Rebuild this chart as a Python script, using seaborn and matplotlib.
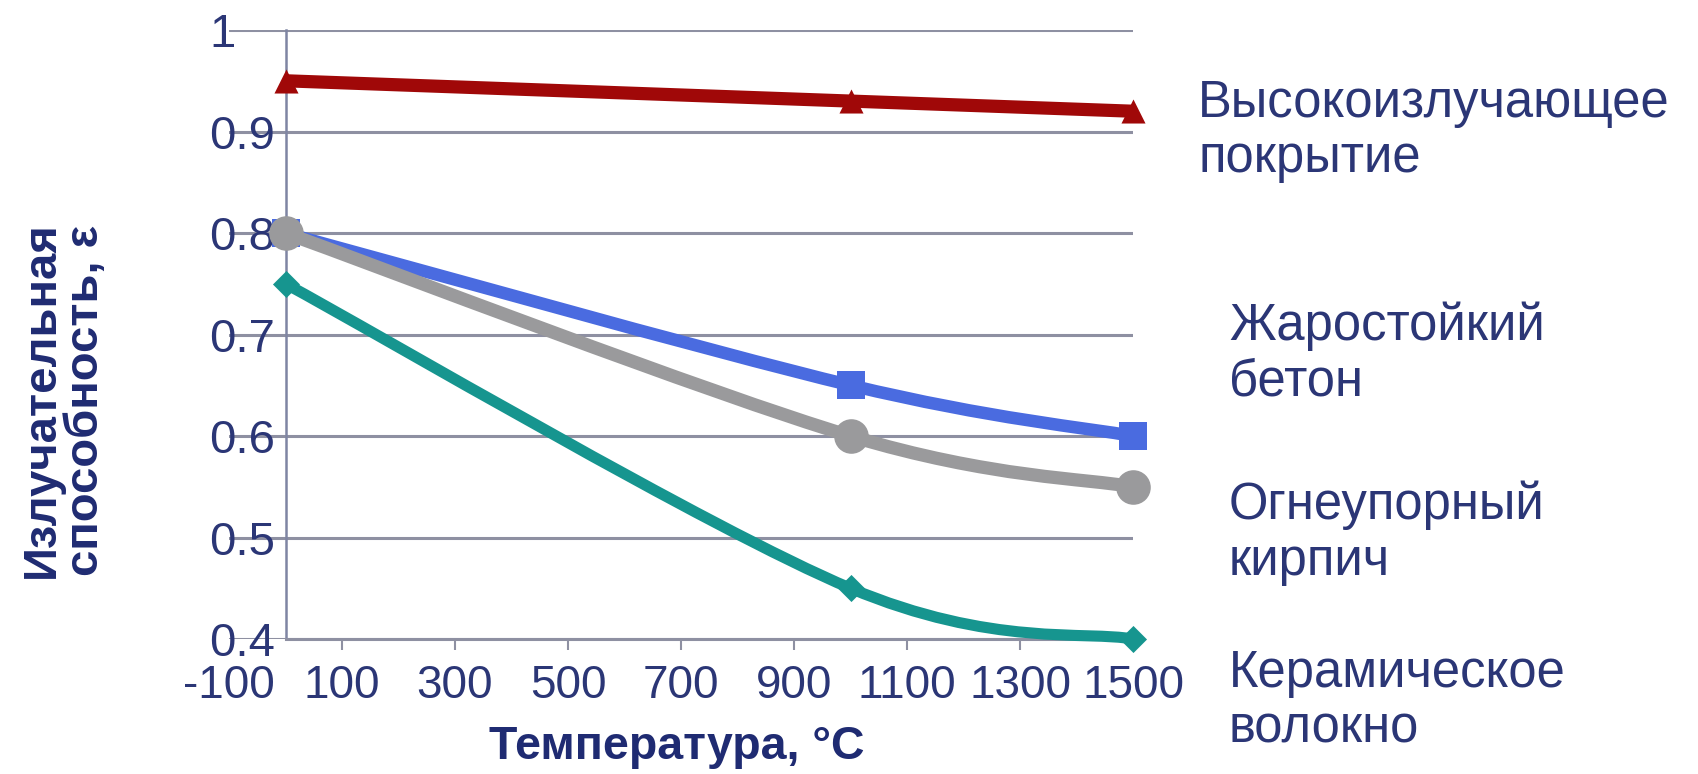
import numpy as np
import pandas as pd
import matplotlib
matplotlib.use("Agg")
import matplotlib.pyplot as plt
from matplotlib.path import Path
from matplotlib.patches import PathPatch
import seaborn as sns

# ---- data ----
temps = [0, 1000, 1500]
coating = [0.95, 0.93, 0.92]      # Высокоизлучающее покрытие
concrete = [0.80, 0.65, 0.60]     # Жаростойкий бетон
brick = [0.80, 0.60, 0.55]        # Огнеупорный кирпич
fiber = [0.75, 0.45, 0.40]        # Керамическое волокно
series_names = ["Керамическое\nволокно", "Жаростойкий\nбетон",
                "Огнеупорный\nкирпич", "Высокоизлучающее\nпокрытие"]
x_ticks = [-100, 100, 300, 500, 700, 900, 1100, 1300, 1500]
y_ticks = [0.4, 0.5, 0.6, 0.7, 0.8, 0.9, 1.0]
y_ticklabels = ["0.4", "0.5", "0.6", "0.7", "0.8", "0.9", "1"]
x_title = "Температура, °С"
y_title = "Излучательная\nспособность, ε"

sns.set_theme(style="white")
plt.rcParams['font.family'] = ['Liberation Sans', 'DejaVu Sans']

NAVY = "#2B3676"
TITLE = "#1F2B72"
GRID = "#8E90A2"

fig = plt.figure(figsize=(16.98, 7.74), dpi=100)
ax = fig.add_axes([229 / 1698, 0.1744, 904 / 1698, 0.7868])
ax.set_xlim(-100, 1500)
ax.set_ylim(0.4, 1.0)


def smooth(ax, xs, ys, color, lw, z):
    P = np.column_stack([xs, ys]).astype(float)
    n = len(P)
    verts = [tuple(P[0])]
    codes = [Path.MOVETO]
    for i in range(n - 1):
        p0 = P[max(i - 1, 0)]
        p1 = P[i]
        p2 = P[i + 1]
        p3 = P[min(i + 2, n - 1)]
        c1 = p1 + (p2 - p0) / 6.0
        c2 = p2 - (p3 - p1) / 6.0
        verts += [tuple(c1), tuple(c2), tuple(p2)]
        codes += [Path.CURVE4] * 3
    patch = PathPatch(Path(verts, codes), facecolor="none", edgecolor=color,
                      lw=lw, zorder=z, capstyle="butt", joinstyle="round",
                      clip_on=False)
    ax.add_patch(patch)


specs = [
    (fiber, "#16958F", "D", 190, 8, 3),
    (concrete, "#4A6BE0", "s", 380, 9, 4),
    (brick, "#9A9A9C", "o", 620, 9.5, 5),
    (coating, "#A00808", "^", 300, 9.5, 6),
]
for vals, col, mk, s, lw, z in specs:
    smooth(ax, temps, vals, col, lw, z)
    df = pd.DataFrame({"t": temps, "e": vals})
    before = len(ax.collections)
    sns.scatterplot(data=df, x="t", y="e", marker=mk, s=s, color=col,
                    edgecolor=col, linewidth=0, ax=ax, zorder=z + 0.5,
                    legend=False)
    for c in ax.collections[before:]:
        c.set_clip_on(False)

ax.set_xticks(x_ticks)
ax.set_xticklabels([str(v) for v in x_ticks])
ax.set_yticks(y_ticks)
ax.set_yticklabels(y_ticklabels)
ax.set_xlabel("")
ax.set_ylabel("")

ax.grid(axis="y", color=GRID, lw=2.2, zorder=0)
ax.grid(axis="x", visible=False)
for side in ["top", "right"]:
    ax.spines[side].set_visible(False)
ax.spines["left"].set_position(("data", 0))
ax.spines["left"].set_color("#7F85A3")
ax.spines["left"].set_linewidth(1.8)
ax.spines["bottom"].set_bounds(0, 1500)
ax.spines["bottom"].set_color(GRID)
ax.spines["bottom"].set_linewidth(2.2)

ax.tick_params(axis="x", length=8, width=1.5, color=GRID, direction="out",
               pad=10, labelsize=33, labelcolor=NAVY, bottom=True)
ax.tick_params(axis="y", length=0, pad=55, labelsize=34, labelcolor=NAVY)
for lbl in ax.get_yticklabels():
    lbl.set_horizontalalignment("left")
ax.xaxis.get_major_ticks()[0].tick1line.set_visible(False)

fig.text(677 / 1698, 1 - 747 / 774, x_title, ha="center", va="center",
         fontsize=33.5, fontweight="bold", color=TITLE)
fig.text(64 / 1698, 1 - 400 / 774, y_title, ha="center", va="center",
         rotation=90, fontsize=34, fontweight="bold", color=TITLE,
         linespacing=1.0, multialignment="center")

label_pos = [(1229, 701), (1229, 354), (1229, 533), (1198, 131)]
for name, (px, py) in zip(series_names, label_pos):
    fig.text(px / 1698, 1 - py / 774, name, ha="left", va="center",
             fontsize=36.5, color=NAVY, linespacing=1.18)

fig.savefig("out.png", dpi=100, facecolor="white")
